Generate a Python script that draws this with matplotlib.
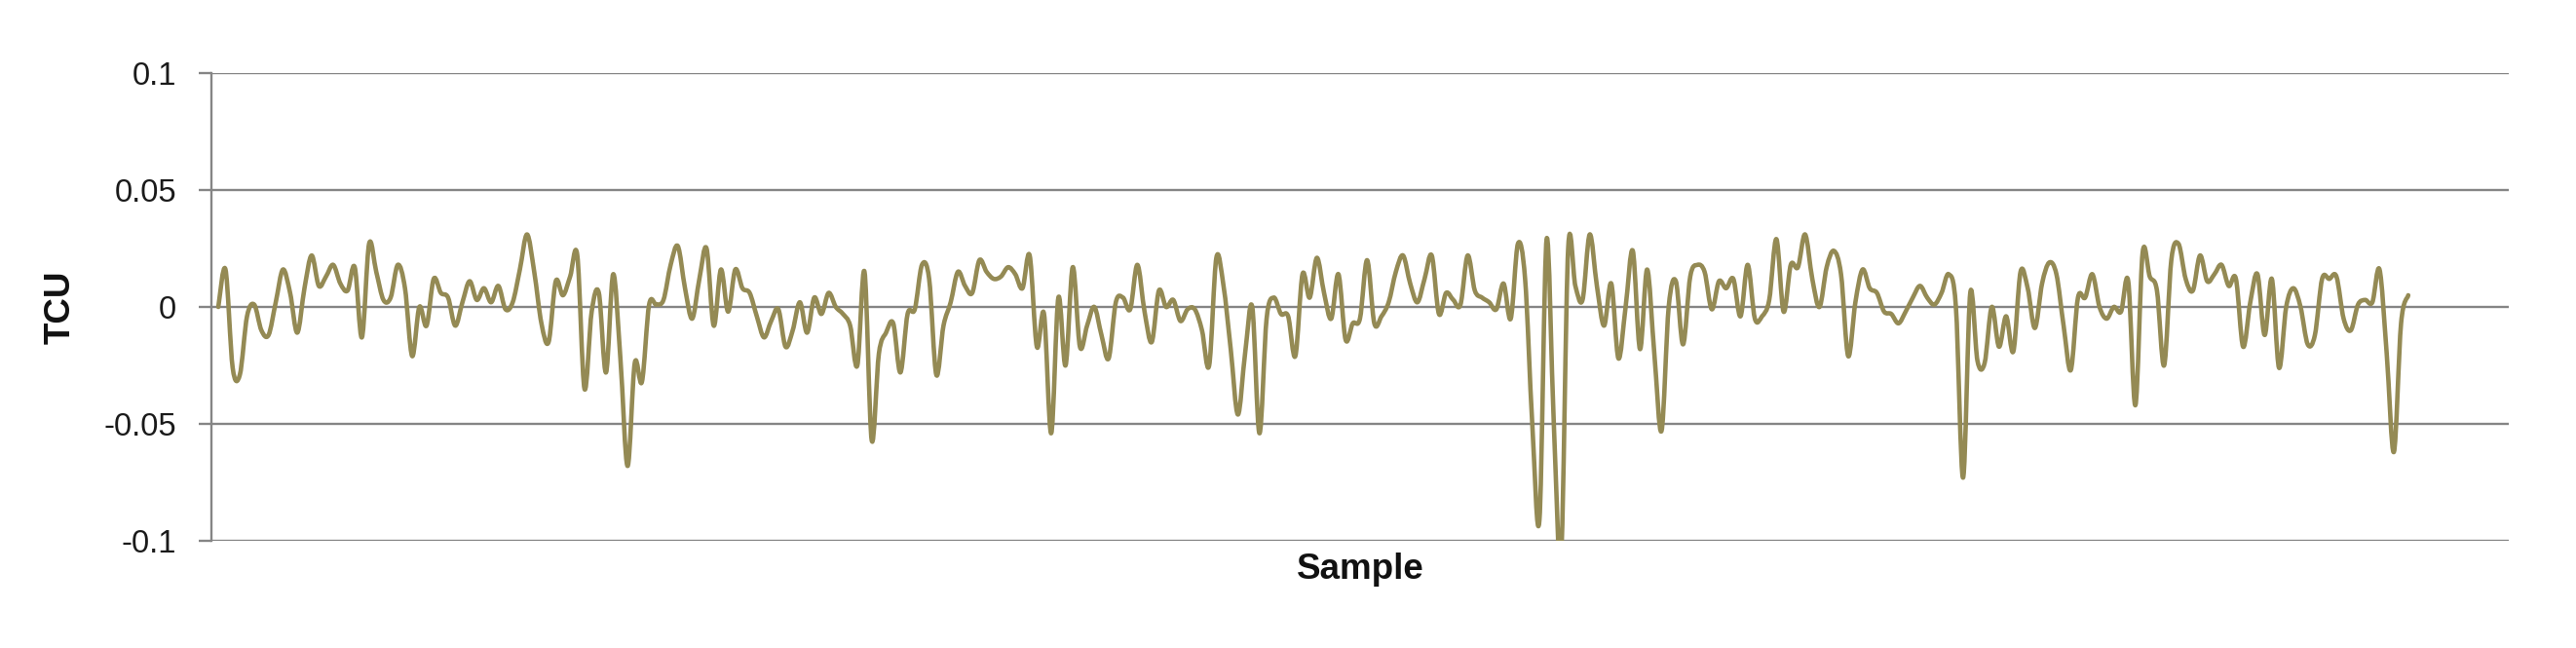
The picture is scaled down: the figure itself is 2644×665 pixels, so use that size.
import numpy as np
import matplotlib
matplotlib.use("Agg")
import matplotlib.pyplot as plt
from matplotlib.path import Path
from matplotlib.patches import PathPatch

# ---------------- data ----------------
tcu = [
    0.000, 0.016, -0.026, -0.029, -0.004, 0.001, -0.010, -0.012, 0.002, 0.016,
    0.006, -0.011, 0.008, 0.022, 0.009, 0.013, 0.018, 0.010, 0.007, 0.017,
    -0.013, 0.027, 0.015, 0.003, 0.004, 0.018, 0.008, -0.021, 0.000, -0.008,
    0.012, 0.006, 0.004, -0.008, 0.002, 0.011, 0.003, 0.008, 0.002, 0.009,
    -0.001, 0.002, 0.016, 0.031, 0.015, -0.007, -0.015, 0.011, 0.005, 0.013,
    0.022, -0.035, -0.002, 0.006, -0.028, 0.014, -0.022, -0.068, -0.024, -0.032,
    0.001, 0.001, 0.003, 0.018, 0.026, 0.008, -0.005, 0.012, 0.025, -0.008,
    0.016, -0.002, 0.016, 0.008, 0.006, -0.004, -0.013, -0.006, -0.001, -0.017,
    -0.010, 0.002, -0.011, 0.004, -0.003, 0.006, 0.000, -0.003, -0.008, -0.025,
    0.015, -0.057, -0.020, -0.011, -0.007, -0.028, -0.003, -0.001, 0.018, 0.012,
    -0.029, -0.008, 0.002, 0.015, 0.009, 0.006, 0.020, 0.015, 0.012, 0.013,
    0.017, 0.014, 0.008, 0.022, -0.017, -0.003, -0.054, 0.004, -0.025, 0.017,
    -0.017, -0.008, 0.000, -0.012, -0.022, 0.002, 0.004, -0.001, 0.018, -0.002,
    -0.015, 0.007, 0.000, 0.003, -0.006, -0.001, -0.001, -0.010, -0.025, 0.021,
    0.009, -0.018, -0.046, -0.020, 0.000, -0.054, -0.005, 0.004, -0.003, -0.004,
    -0.021, 0.014, 0.004, 0.021, 0.006, -0.005, 0.014, -0.014, -0.007, -0.005,
    0.020, -0.007, -0.004, 0.002, 0.015, 0.022, 0.010, 0.002, 0.012, 0.022,
    -0.003, 0.006, 0.003, 0.001, 0.022, 0.007, 0.004, 0.002, -0.001, 0.010,
    -0.005, 0.027, 0.012, -0.050, -0.091, 0.029, -0.050, -0.108, 0.025, 0.009,
    0.003, 0.031, 0.009, -0.008, 0.010, -0.022, 0.000, 0.024, -0.018, 0.016,
    -0.020, -0.053, 0.000, 0.011, -0.016, 0.013, 0.018, 0.015, -0.001, 0.011,
    0.008, 0.012, -0.004, 0.018, -0.005, -0.004, 0.003, 0.029, -0.002, 0.018,
    0.017, 0.031, 0.012, 0.000, 0.017, 0.024, 0.014, -0.021, 0.002, 0.016,
    0.008, 0.006, -0.002, -0.003, -0.007, -0.002, 0.004, 0.009, 0.004, 0.001,
    0.006, 0.014, 0.000, -0.073, 0.006, -0.023, -0.024, 0.000, -0.017, -0.004,
    -0.019, 0.015, 0.008, -0.009, 0.010, 0.019, 0.014, -0.008, -0.027, 0.004,
    0.004, 0.014, 0.000, -0.005, 0.000, -0.002, 0.011, -0.042, 0.023, 0.013,
    0.007, -0.025, 0.020, 0.027, 0.012, 0.007, 0.022, 0.011, 0.014, 0.018,
    0.009, 0.012, -0.017, 0.002, 0.014, -0.012, 0.012, -0.026, 0.000, 0.008,
    0.000, -0.016, -0.012, 0.012, 0.012, 0.013, -0.005, -0.010, 0.001, 0.003,
    0.002, 0.016, -0.020, -0.062, -0.007, 0.005,
]
sample = np.arange(1, len(tcu) + 1)

yticks = [-0.1, -0.05, 0, 0.05, 0.1]
ytick_labels = ["-0.1", "-0.05", "0", "0.05", "0.1"]
x_label = "Sample"
y_label = "TCU"

# ---------------- styling ----------------
plt.rcParams["font.family"] = ["Liberation Sans", "DejaVu Sans"]
LINE_COLOR = "#948a54"
GRID_COLOR = "#858585"

W, H, DPI = 2644, 665, 100
fig = plt.figure(figsize=(W / DPI, H / DPI), dpi=DPI)
left, right = 216.7 / W, 2575 / W
top, bottom = 1 - 75 / H, 1 - 555 / H
ax = fig.add_axes([left, bottom, right - left, top - bottom])

ax.set_xlim(0, 320)
ax.set_ylim(-0.1, 0.1)

# smoothed line (Catmull-Rom style Bezier through the data points, like a spreadsheet "smoothed line")
x = sample.astype(float)
y = np.asarray(tcu, dtype=float)
n = len(x)
verts = [(x[0], y[0])]
codes = [Path.MOVETO]
for i in range(n - 1):
    i0 = max(i - 1, 0)
    i3 = min(i + 2, n - 1)
    c1 = (x[i] + (x[i + 1] - x[i0]) / 6.0, y[i] + (y[i + 1] - y[i0]) / 6.0)
    c2 = (x[i + 1] - (x[i3] - x[i]) / 6.0, y[i + 1] - (y[i3] - y[i]) / 6.0)
    verts += [c1, c2, (x[i + 1], y[i + 1])]
    codes += [Path.CURVE4, Path.CURVE4, Path.CURVE4]
patch = PathPatch(Path(verts, codes), facecolor="none", edgecolor=LINE_COLOR,
                  lw=3.3, capstyle="round", joinstyle="round", zorder=3)
ax.add_patch(patch)

# grid and axes
ax.set_yticks(yticks)
ax.set_yticklabels(ytick_labels)
ax.yaxis.grid(True, color=GRID_COLOR, lw=1.7, zorder=1)
ax.set_axisbelow(True)
ax.set_xticks([])
for s in ["top", "right", "bottom"]:
    ax.spines[s].set_visible(False)
ax.spines["left"].set_color(GRID_COLOR)
ax.spines["left"].set_linewidth(1.7)
ax.tick_params(axis="y", direction="out", length=9.5, width=1.7, color=GRID_COLOR,
               pad=16, labelsize=23.5, labelcolor="#1a1a1a")

fig.text(62 / W, 1 - 315 / H, y_label, rotation=90, ha="center", va="center",
         fontsize=26.5, fontweight="bold", color="#111111")
fig.text((left + right) / 2, 1 - 594 / H, x_label, ha="center", va="baseline",
         fontsize=26.5, fontweight="bold", color="#111111")

fig.savefig("out.png", dpi=DPI, facecolor="white")
